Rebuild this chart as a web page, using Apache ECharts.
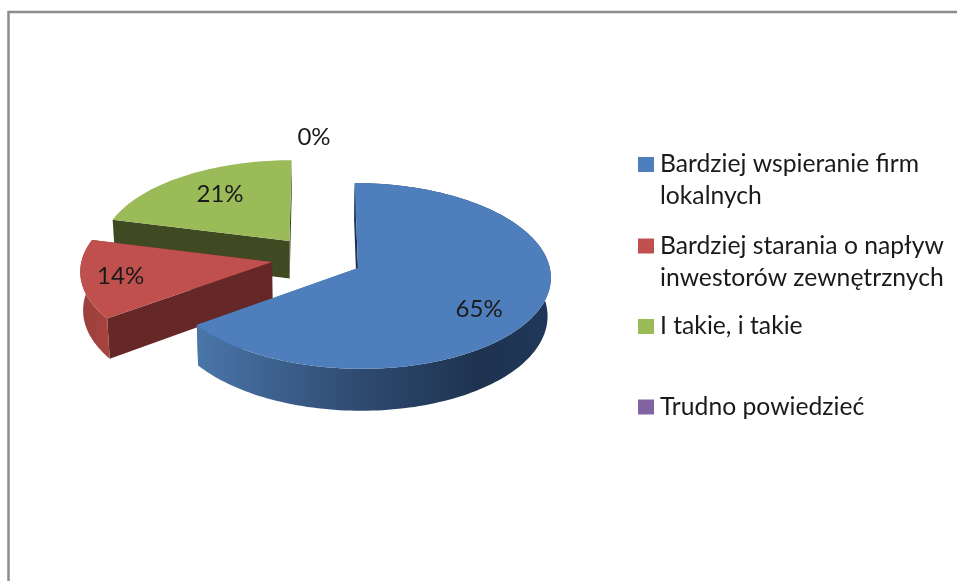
<!DOCTYPE html>
<html>
<head>
<meta charset="utf-8">
<style>html,body{margin:0;padding:0;background:#fff}#c{width:957px;height:581px}</style>
<script src="https://cdn.jsdelivr.net/npm/echarts@6/dist/echarts.min.js"></script>
</head>
<body>
<div id="c"></div>
<script>
const categories = ['Bardziej wspieranie firm\nlokalnych', 'Bardziej starania o napływ\ninwestorów zewnętrznych', 'I takie, i takie', 'Trudno powiedzieć'];
const values = [65, 14, 21, 0];
const colors = ['#4e7fbc', '#bf504d', '#9bbb59', '#8064a2'];

// Projection of the tilted pie (radius = 1 in pie units)
const P = {x0: 317, y0: 258, a: 190, b: 90.5, k: 0.085, depth: 38, explode: 0.24, vx: 300, shrink: 0.987};
const labelLayout = [[0.70, -3, 11], [0.795, 0, 0], [0.69, 5, -1], [1.29, -3, 2]];
const wallStyles = [
  {arc: [[0, '#4a76a9'], [0.45, '#2f4b71'], [0.8, '#1e3350'], [1, '#21375a']]},
  {arc: [[0, '#9a3f3b'], [1, '#a8433f']], front: '#652826'},
  {front: '#3f4a22'},
  {}
];
const legendTop = [164.5, 246, 326.5, 407];

const total = values.reduce((s, v) => s + v, 0);
const rad = d => d * Math.PI / 180;
function project(u, v) {
  const s = 1 / (1 + P.k * v);
  return [P.x0 + P.a * u * s, P.y0 - P.b * v * s];
}
function lower(u, v) {
  const p = project(u, v), s = 1 / (1 + P.k * v);
  return [P.vx + (p[0] - P.vx) * P.shrink, p[1] + P.depth * s];
}
function sliceAngles(i) {
  let a = 0;
  for (let j = 0; j < i; j++) a += values[j] / total * 360;
  return [a, a + values[i] / total * 360];
}

function renderItem(params) {
  const i = params.dataIndex;
  const [a0, a1] = sliceAngles(i);
  const mid = rad((a0 + a1) / 2);
  const cu = P.explode * Math.sin(mid), cv = P.explode * Math.cos(mid);
  const pts = [];
  for (let d = a0; d < a1; d += 1.5) pts.push([cu + Math.sin(rad(d)), cv + Math.cos(rad(d))]);
  if (values[i] > 0) pts.push([cu + Math.sin(rad(a1)), cv + Math.cos(rad(a1))]);
  const rank = (values.length - i) * 10;
  const children = [];
  const st = wallStyles[i];
  if (values[i] > 0) {
    const polyOf = seq => seq.map(q => project(q[0], q[1])).concat(seq.slice().reverse().map(q => lower(q[0], q[1])));
    const apex = [cu, cv];
    // radial wall at the start of the slice (dark sliver of the blue slice)
    children.push({type: 'polygon', z2: rank, shape: {points: polyOf([apex, pts[0]])}, style: {fill: st.front || '#1d3350'}});
    // radial wall at the end of the slice
    children.push({type: 'polygon', z2: rank + 1, shape: {points: polyOf([apex, pts[pts.length - 1]])}, style: {fill: st.front || colors[i]}});
    if (st.arc) {
      const wall = polyOf(pts);
      const xs = pts.map(q => project(q[0], q[1])[0]);
      const xMin = Math.min(...xs), xMax = Math.max(...xs);
      children.push({type: 'polygon', z2: rank + 2, shape: {points: wall},
        style: {fill: new echarts.graphic.LinearGradient(xMin, 0, xMax, 0, st.arc.map(c => ({offset: c[0], color: c[1]})), true)}});
    }
    const top = [project(cu, cv)].concat(pts.map(q => project(q[0], q[1])));
    children.push({type: 'polygon', z2: rank + 3, shape: {points: top}, style: {fill: colors[i]}});
  }
  const L = labelLayout[i];
  const lp = project(cu + L[0] * Math.sin(mid), cv + L[0] * Math.cos(mid));
  children.push({type: 'text', z2: 100, style: {
    x: lp[0] + L[1], y: lp[1] + L[2], text: Math.round(values[i] / total * 100) + '%',
    fill: '#1a1a1a', font: '24px Lato', align: 'center', verticalAlign: 'middle'
  }});
  return {type: 'group', children};
}

const graphicEls = [{
  type: 'polyline', silent: true,
  shape: {points: [[8.5, 581], [8.5, 12], [957, 12]]},
  style: {stroke: '#8c8c8c', lineWidth: 2.5, fill: null}
}];
categories.forEach((name, i) => {
  graphicEls.push({type: 'rect', silent: true, shape: {x: 638, y: legendTop[i] - 7.5, width: 16, height: 15}, style: {fill: colors[i]}});
  graphicEls.push({type: 'text', silent: true, style: {
    x: 660, y: legendTop[i] - 16, text: name, fill: '#1a1a1a', font: '24.7px Lato', lineHeight: 32, align: 'left', verticalAlign: 'top'
  }});
});

const chart = echarts.init(document.getElementById('c'), null, {renderer: 'canvas'});
chart.setOption({
  animation: false,
  backgroundColor: '#fff',
  graphic: graphicEls,
  series: [{
    type: 'custom',
    coordinateSystem: 'none',
    silent: true,
    renderItem,
    data: values.map((v, i) => ({name: categories[i], value: v}))
  }]
});
</script>
</body>
</html>
